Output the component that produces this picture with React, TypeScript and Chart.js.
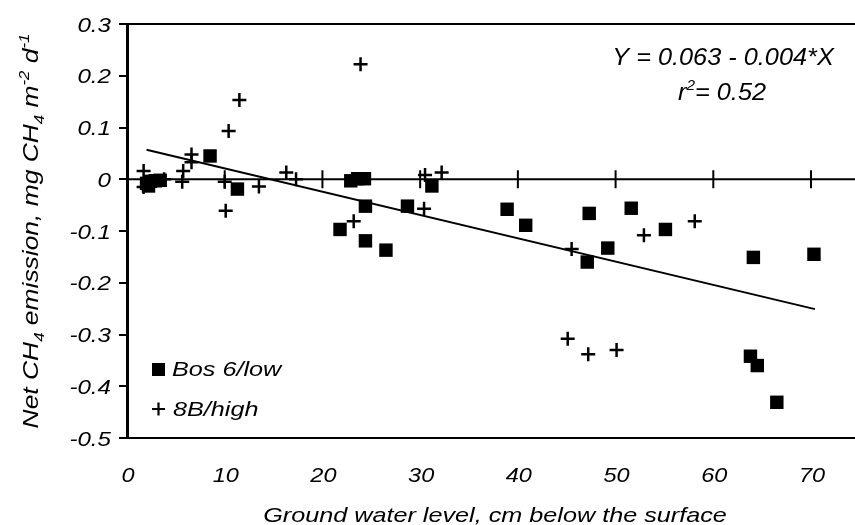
import React, { useEffect, useRef } from 'react';
import { Chart, registerables } from 'chart.js';

Chart.register(...registerables);

// ---- data ----
const lowX = [2.0, 2.4, 2.9, 3.4, 2.2, 8.5, 11.3, 22.9, 23.6, 24.3, 24.4, 21.8, 24.4, 26.5, 28.7, 31.2, 38.9, 40.8, 47.1, 47.3, 49.2, 51.6, 55.1, 64.1, 70.3, 63.8, 64.5, 66.5];
const lowY = [-0.008, -0.004, -0.003, -0.002, -0.013, 0.045, -0.019, -0.003, 0.001, 0.001, -0.052, -0.097, -0.119, -0.137, -0.052, -0.013, -0.058, -0.089, -0.160, -0.066, -0.133, -0.056, -0.097, -0.151, -0.145, -0.342, -0.360, -0.431];
const highX = [1.7, 1.7, 3.8, 5.75, 5.65, 6.6, 6.6, 10.4, 11.5, 10.0, 10.1, 13.5, 16.3, 17.3, 23.9, 23.2, 30.4, 30.5, 32.2, 45.5, 52.9, 58.1, 45.1, 47.2, 50.1];
const highY = [0.016, -0.015, 0.0, 0.016, -0.005, 0.048, 0.033, 0.093, 0.153, -0.005, -0.061, -0.014, 0.013, 0.0, 0.222, -0.081, -0.057, 0.008, 0.013, -0.135, -0.108, -0.081, -0.308, -0.338, -0.330];
const fitX = [2.0, 70.4];
const fitY = [0.057, -0.251];
const xTickValues = [0, 10, 20, 30, 40, 50, 60, 70];
const zeroLineTicks = [10, 20, 30, 40, 50, 60, 70];
const seriesNames = ['Bos 6/low', '8B/high'];
const equationText = 'Y = 0.063 - 0.004*X';
const r2Value = '= 0.52';
const xTitle = 'Ground water level, cm below the surface';

const FAMILY = '"Liberation Sans", Arial, sans-serif';
const font = (size: number) => `italic ${size}px ${FAMILY}`;

type Part = { t: string; s?: 'sub' | 'sup' };

function drawRich(
  ctx: CanvasRenderingContext2D,
  parts: Part[],
  x: number,
  y: number,
  size: number,
  align: 'left' | 'center' | 'right',
  stretch: number,
  rotate = false
) {
  ctx.save();
  ctx.translate(x, y);
  if (rotate) ctx.rotate(-Math.PI / 2);
  ctx.scale(stretch, 1);
  ctx.fillStyle = '#000';
  ctx.textBaseline = 'alphabetic';
  ctx.textAlign = 'left';
  const sizes = parts.map((p) => (p.s ? Math.round(size * 0.62) : size));
  let w = 0;
  parts.forEach((p, i) => {
    ctx.font = font(sizes[i]);
    w += ctx.measureText(p.t).width;
  });
  let cx = align === 'center' ? -w / 2 : align === 'right' ? -w : 0;
  parts.forEach((p, i) => {
    ctx.font = font(sizes[i]);
    const dy = p.s === 'sub' ? size * 0.25 : p.s === 'sup' ? -size * 0.42 : 0;
    ctx.fillText(p.t, cx, dy);
    cx += ctx.measureText(p.t).width;
  });
  ctx.restore();
}

const fmtY = (v: number) => {
  const r = Math.round(v * 10) / 10;
  return r === 0 ? '0' : String(r);
};

const decor = {
  id: 'decor',
  beforeDatasetsDraw(chart: any) {
    const { ctx, chartArea: a, scales } = chart;
    const x = scales.x;
    const y = scales.y;
    ctx.save();
    ctx.strokeStyle = '#000';
    ctx.lineWidth = 2;
    ctx.beginPath();
    const y0 = y.getPixelForValue(0);
    ctx.moveTo(a.left, y0);
    ctx.lineTo(a.right, y0);
    zeroLineTicks.forEach((v) => {
      const px = x.getPixelForValue(v);
      ctx.moveTo(px, y0 - 9);
      ctx.lineTo(px, y0 + 9);
    });
    ctx.moveTo(a.left, a.top);
    ctx.lineTo(a.right, a.top);
    ctx.stroke();
    ctx.restore();
  },
  afterDraw(chart: any) {
    const { ctx, scales } = chart;
    const xs = scales.x;
    const ys = scales.y;
    // tick labels, placed through the library's scales
    ys.ticks.forEach((t: any) => {
      const py = ys.getPixelForValue(t.value);
      drawRich(ctx, [{ t: fmtY(t.value) }], 111, py + 7.5, 21, 'right', 1.15);
    });
    xs.ticks.forEach((t: any) => {
      const px = xs.getPixelForValue(t.value);
      drawRich(ctx, [{ t: String(t.value) }], px + 1, 482, 21, 'center', 1.12);
    });
    // y title
    drawRich(
      ctx,
      [
        { t: 'Net CH' },
        { t: '4', s: 'sub' },
        { t: ' emission, mg CH' },
        { t: '4', s: 'sub' },
        { t: ' m' },
        { t: '-2', s: 'sup' },
        { t: ' d' },
        { t: '-1', s: 'sup' },
      ],
      38,
      231,
      22,
      'center',
      1.2,
      true
    );
    // x title
    drawRich(ctx, [{ t: xTitle }], 495, 522, 21, 'center', 1.2);
    // equation
    drawRich(ctx, [{ t: equationText }], 723, 65, 23, 'center', 1.1);
    drawRich(ctx, [{ t: 'r' }, { t: '2', s: 'sup' }, { t: r2Value }], 722, 100, 23, 'center', 1.1);
    // legend
    ctx.save();
    ctx.fillStyle = '#000';
    ctx.fillRect(152, 363, 13, 13);
    ctx.strokeStyle = '#000';
    ctx.lineWidth = 2.2;
    ctx.beginPath();
    ctx.moveTo(152, 409);
    ctx.lineTo(165, 409);
    ctx.moveTo(158.5, 402.5);
    ctx.lineTo(158.5, 415.5);
    ctx.stroke();
    ctx.restore();
    drawRich(ctx, [{ t: seriesNames[0] }], 172, 376, 21, 'left', 1.2);
    drawRich(ctx, [{ t: seriesNames[1] }], 173, 416, 21, 'left', 1.2);
  },
};

export default function App() {
  const ref = useRef<HTMLCanvasElement | null>(null);
  useEffect(() => {
    if (!ref.current) return;
    const chart = new Chart(ref.current, {
      type: 'scatter',
      data: {
        datasets: [
          {
            type: 'scatter',
            label: seriesNames[0],
            data: lowX.map((v, i) => ({ x: v, y: lowY[i] })),
            pointStyle: 'rect',
            pointRadius: 9.5,
            backgroundColor: '#000',
            borderColor: '#000',
            borderWidth: 0,
            order: 1,
          },
          {
            type: 'scatter',
            label: seriesNames[1],
            data: highX.map((v, i) => ({ x: v, y: highY[i] })),
            pointStyle: 'cross',
            pointRadius: 7,
            backgroundColor: '#000',
            borderColor: '#000',
            borderWidth: 2.5,
            order: 2,
          },
          {
            type: 'line',
            label: 'fit',
            data: fitX.map((v, i) => ({ x: v, y: fitY[i] })),
            showLine: true,
            pointRadius: 0,
            borderColor: '#000',
            borderWidth: 2,
            fill: false,
            order: 3,
          } as any,
        ],
      },
      options: {
        animation: false,
        responsive: false,
        events: [],
        layout: { autoPadding: false, padding: { top: 24, left: 0, right: 0, bottom: 0 } },
        plugins: { legend: { display: false }, tooltip: { enabled: false }, title: { display: false } },
        scales: {
          x: {
            type: 'linear',
            min: 0,
            max: 74.5,
            afterFit: (s: any) => {
              s.height = 87;
              s.paddingLeft = 0;
              s.paddingRight = 0;
            },
            afterBuildTicks: (s: any) => {
              s.ticks = xTickValues.map((v) => ({ value: v }));
            },
            grid: { display: false, drawTicks: false },
            border: { display: true, color: '#000', width: 2 },
            ticks: { display: false, autoSkip: false },
          },
          y: {
            type: 'linear',
            min: -0.5,
            max: 0.3,
            afterFit: (s: any) => {
              s.width = 127;
              s.paddingTop = 0;
              s.paddingBottom = 0;
            },
            grid: { display: true, drawOnChartArea: false, drawTicks: true, tickLength: 8, color: '#000', lineWidth: 2 },
            border: { display: true, color: '#000', width: 3 },
            ticks: { display: false, stepSize: 0.1 },
          },
        },
      },
      plugins: [decor],
    });
    return () => chart.destroy();
  }, []);
  return (
    <div style={{ position: 'fixed', left: 0, top: 0, width: 855, height: 525, background: '#fff' }}>
      <canvas ref={ref} width={855} height={525} style={{ display: 'block' }} />
    </div>
  );
}
